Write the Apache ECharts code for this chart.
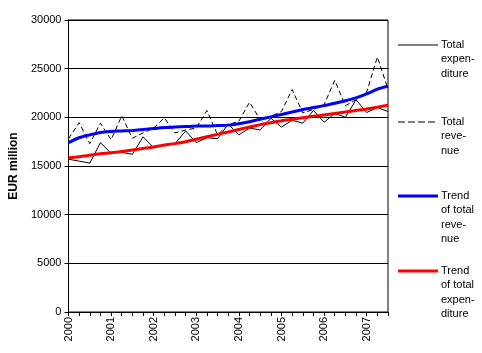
<!DOCTYPE html>
<html>
<head>
<meta charset="utf-8">
<script src="https://cdn.jsdelivr.net/npm/echarts@6/dist/echarts.min.js"></script>
<style>
html,body{margin:0;padding:0;background:#fff;}
#chart{width:482px;height:353px;}
</style>
</head>
<body>
<div id="chart"></div>
<script>
var quarters = [];
var years = ['2000','2001','2002','2003','2004','2005','2006','2007'];
for (var y = 0; y < years.length; y++) {
  for (var q = 1; q <= 4; q++) {
    if (quarters.length < 31) quarters.push(years[y] + ' Q' + q);
  }
}
var totalExpenditure = [15700,15500,15300,17400,16300,16400,16200,18000,16900,17100,17300,18600,17400,17900,17800,19300,18200,18900,18700,19900,19000,19700,19400,20700,19500,20400,20000,21800,20500,21000,20600];
var totalRevenue = [17800,19450,17300,19400,17700,20150,17850,18400,18900,19950,18400,18700,18900,20700,18200,19250,19600,21550,19750,20100,20600,22850,20450,20800,21300,23800,21200,21800,22600,26200,22900];
var trendRevenue = [17400,17900,18200,18450,18550,18600,18650,18750,18850,18950,19000,19050,19100,19100,19150,19200,19350,19550,19800,20050,20300,20550,20800,21000,21200,21450,21700,22000,22400,22900,23200];
var trendExpenditure = [15850,15950,16100,16250,16350,16500,16650,16800,16950,17150,17300,17500,17750,18000,18250,18500,18750,19000,19250,19450,19650,19800,19950,20100,20250,20400,20550,20700,20850,21050,21250];
var seriesNames = ['Total expenditure','Total revenue','Trend of total revenue','Trend of total expenditure'];
var legendTexts = ['Total\nexpen-\nditure','Total\nreve-\nnue','Trend\nof total\nreve-\nnue','Trend\nof total\nexpen-\nditure'];
var yTicks = [0,5000,10000,15000,20000,25000,30000];

var FONT = 'Arial, "Liberation Sans", sans-serif';
var chart = echarts.init(document.getElementById('chart'));

var legendY = [45,122,196,271];
var legendStyles = [
  {stroke:'#000', lineWidth:1},
  {stroke:'#000', lineWidth:1, lineDash:[7,3]},
  {stroke:'#0000ff', lineWidth:3},
  {stroke:'#ff0000', lineWidth:3}
];
var graphics = [];
for (var i = 0; i < 4; i++) {
  graphics.push({type:'line', shape:{x1:398,y1:legendY[i],x2:438,y2:legendY[i]}, style:legendStyles[i], silent:true});
  graphics.push({type:'text', x:441, y:legendY[i]-7, style:{text:legendTexts[i], font:'11px ' + FONT, fill:'#000', lineHeight:14.3, textVerticalAlign:'top', verticalAlign:'top'}, silent:true});
}

chart.setOption({
  animation:false,
  backgroundColor:'#fff',
  grid:{left:65,right:94,top:20,bottom:41,show:true,borderColor:'#000',borderWidth:1,backgroundColor:'transparent'},
  xAxis:{
    type:'category',
    data:quarters,
    boundaryGap:false,
    axisLine:{lineStyle:{color:'#000',width:1}},
    axisTick:{show:true,interval:0,length:4,lineStyle:{color:'#000'}},
    axisLabel:{interval:3,rotate:90,margin:5,color:'#000',fontSize:11,fontFamily:FONT,
      formatter:function(v){return v.slice(0,4);}},
    splitLine:{show:false}
  },
  yAxis:{
    type:'value',
    min:yTicks[0],max:yTicks[yTicks.length-1],interval:5000,
    name:'EUR million',nameLocation:'middle',nameRotate:90,nameGap:45,
    nameTextStyle:{color:'#000',fontSize:12,fontWeight:'bold',fontFamily:FONT},
    axisLine:{show:true,lineStyle:{color:'#000',width:1}},
    axisTick:{show:true,length:4,lineStyle:{color:'#000'}},
    axisLabel:{color:'#000',fontSize:11,fontFamily:FONT,margin:7,
      formatter:function(v){return String(v);}},
    splitLine:{show:true,lineStyle:{color:'#000',width:1}}
  },
  graphic:graphics,
  series:[
    {name:seriesNames[0],type:'line',data:totalExpenditure,symbol:'none',lineStyle:{color:'#000',width:1}},
    {name:seriesNames[1],type:'line',data:totalRevenue,symbol:'none',lineStyle:{color:'#000',width:1,type:[5,3]}},
    {name:seriesNames[2],type:'line',data:trendRevenue,symbol:'none',smooth:0.3,lineStyle:{color:'#0000ff',width:3}},
    {name:seriesNames[3],type:'line',data:trendExpenditure,symbol:'none',smooth:0.3,lineStyle:{color:'#ff0000',width:3}}
  ]
});
</script>
</body>
</html>
